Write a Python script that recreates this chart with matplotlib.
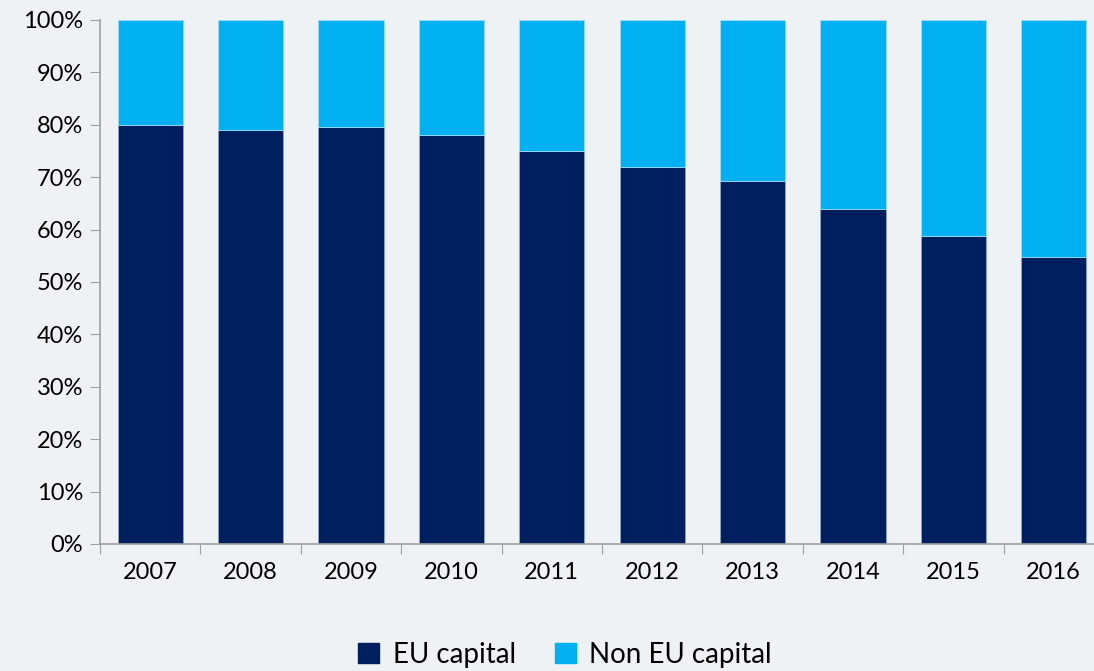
import matplotlib
matplotlib.use('Agg')
import matplotlib.pyplot as plt
from matplotlib.patches import Patch
from matplotlib.ticker import PercentFormatter

years = ['2007', '2008', '2009', '2010', '2011', '2012', '2013', '2014', '2015', '2016']
eu_capital = [80.0, 79.0, 79.5, 78.0, 75.0, 72.0, 69.3, 64.0, 58.8, 54.7]
non_eu_capital = [100 - v for v in eu_capital]

navy = '#001f5f'
cyan = '#00b0f0'
bg = '#eff2f4'

plt.rcParams['font.family'] = ['Lato', 'DejaVu Sans']

fig = plt.figure(figsize=(10.94, 6.71), dpi=100, facecolor=bg)
ax = fig.add_axes([100 / 1094, 127 / 671, 1004 / 1094, 524 / 671])
ax.set_facecolor('none')

x = range(len(years))
ax.bar(x, eu_capital, width=0.65, color=navy, edgecolor='#8fa6c8', linewidth=0.6)
ax.bar(x, non_eu_capital, width=0.65, bottom=eu_capital, color=cyan,
       edgecolor='#9fdcf5', linewidth=0.6)

ax.set_xlim(-0.5, len(years) - 0.5)
ax.set_ylim(0, 100)
ax.set_yticks(range(0, 101, 10))
ax.yaxis.set_major_formatter(PercentFormatter(decimals=0))
ax.set_xticks([i - 0.5 for i in range(len(years) + 1)], minor=False)
ax.set_xticklabels([])
ax.set_xticks(list(x), minor=True)
ax.set_xticklabels(years, minor=True)
ax.tick_params(axis='x', which='minor', length=0, pad=13, labelsize=17)
ax.tick_params(axis='x', which='major', length=7, color='#a0a0a0', direction='out')
ax.tick_params(axis='y', length=7, color='#a0a0a0', labelsize=17, pad=5)

for s in ('top', 'right'):
    ax.spines[s].set_visible(False)
ax.spines['left'].set_color('#a0a0a0')
ax.spines['bottom'].set_color('#a0a0a0')
ax.spines['left'].set_linewidth(1.2)
ax.spines['bottom'].set_linewidth(1.2)

handles = [Patch(color=navy, label='EU capital'), Patch(color=cyan, label='Non EU capital')]
fig.legend(handles=handles, loc='center', bbox_to_anchor=(565 / 1094, 16 / 671), ncol=2,
           frameon=False, fontsize=20, handlelength=0.75, handleheight=0.75,
           handletextpad=0.5, columnspacing=1.4)

fig.savefig('out.png', dpi=100, facecolor=bg)
